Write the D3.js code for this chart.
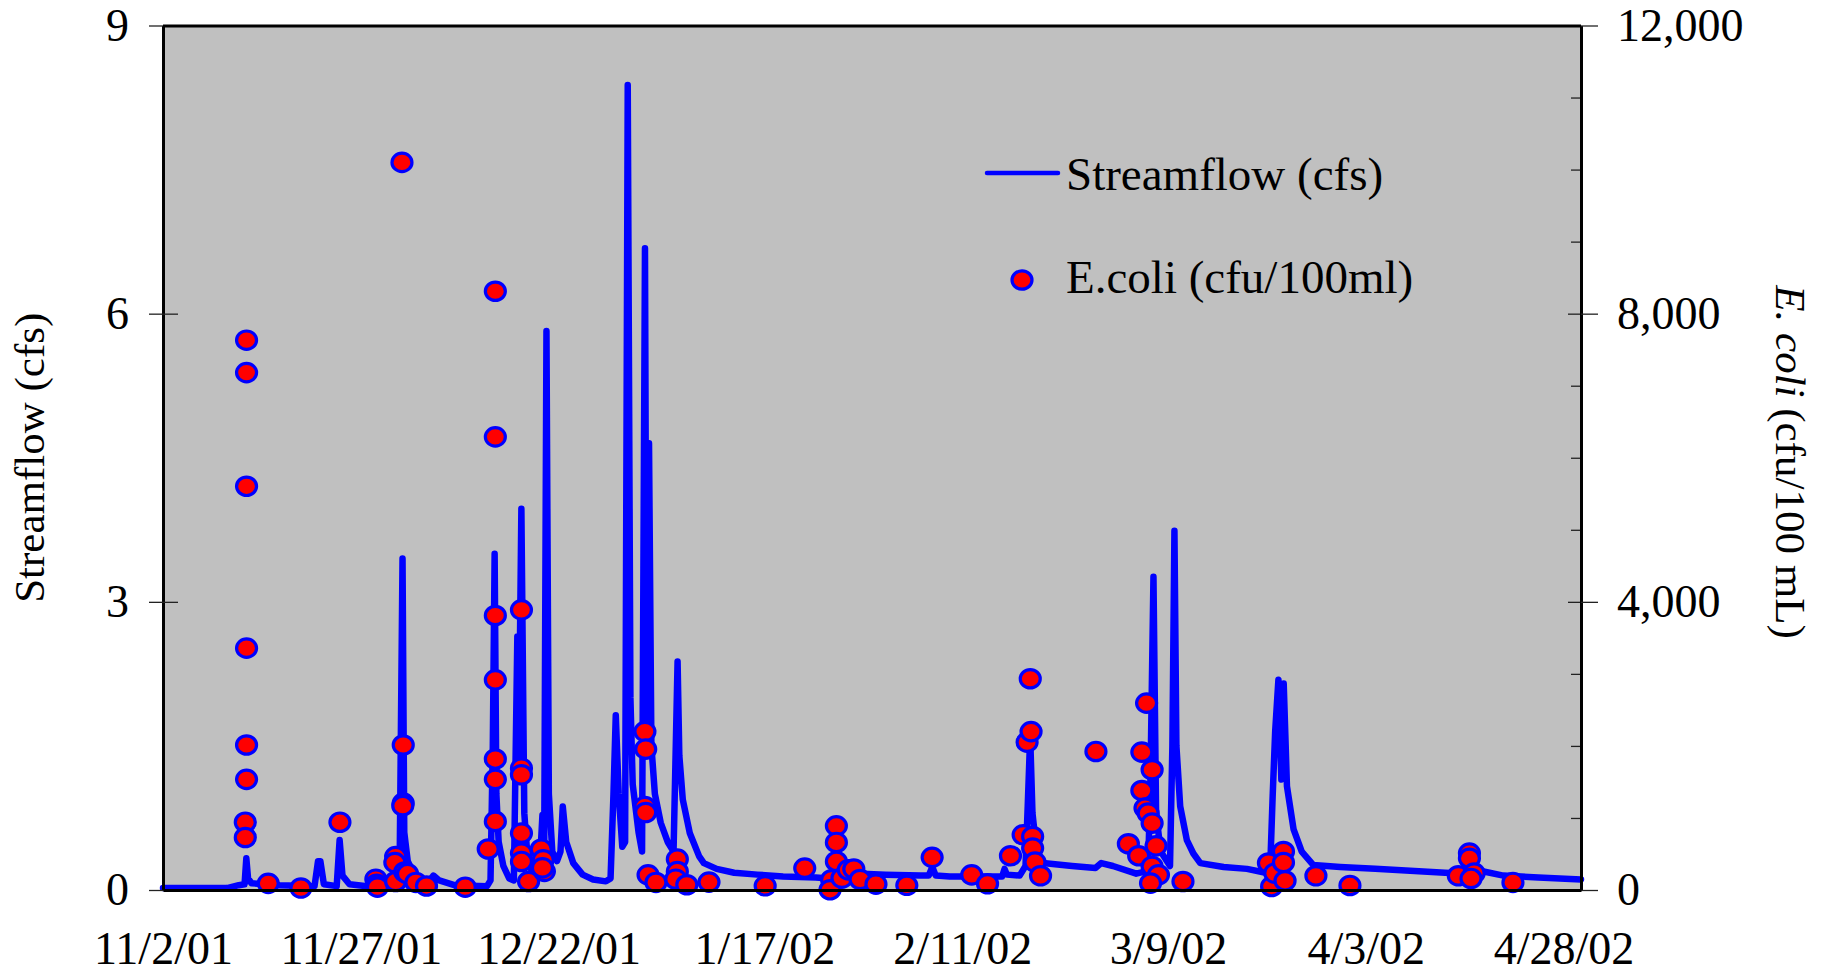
<!DOCTYPE html>
<html>
<head>
<meta charset="utf-8">
<script src="https://cdn.jsdelivr.net/npm/d3@7"></script>
<style>
  body { margin: 0; background: #ffffff; }
</style>
</head>
<body>
<div class="chart"></div>
<script>
// Data
//= ================================
var xTickLabels = ["11/2/01", "11/27/01", "12/22/01", "1/17/02", "2/11/02", "3/9/02", "4/3/02", "4/28/02"];
var flowTicks = [0, 3, 6, 9];
var ecoliTicks = [0, 4000, 8000, 12000];
var ecoliMinorTicks = [1000, 2000, 3000, 5000, 6000, 7000, 9000, 10000, 11000];

// streamflow: days after 11/2/01, cfs
var flowDay = [0, 8.10, 9.57, 10.31, 10.53, 10.75, 11.19, 14.73, 19.15, 19.59, 19.89, 20.33, 21.95, 22.32, 22.68, 23.57,
  25.78, 26.22, 27.25, 28.72, 29.90, 30.27, 30.49, 30.93, 31.82, 32.70, 33.44, 34.18, 34.91, 36.82,
  40.95, 41.39, 41.68, 41.91, 42.13, 42.42, 43.01, 43.75, 44.34, 44.78, 44.93, 45.29, 45.66, 46.10, 46.84,
  47.58, 47.95, 48.17, 48.46, 48.76, 49.20, 49.79, 50.23, 50.52, 50.96, 51.85, 53.03, 54.35, 55.97,
  56.56, 56.93, 57.22, 57.59, 58.04, 58.40, 58.73, 59.07, 59.36, 60.10, 60.54, 60.91, 61.13, 61.42, 61.72,
  62.16, 62.90, 63.78, 64.52, 65.03, 65.25, 65.69, 66.58, 67.76, 68.35, 69.97, 72.18, 75.12, 78.36,
  82.49, 84.25, 88.38, 91.32, 95.74, 96.77, 97.22, 97.66, 99.43, 106.05, 106.35, 106.64, 108.26,
  109.00, 109.29, 109.59, 109.88, 110.47, 111.21, 114.89, 117.84, 118.57, 120.05, 122.99, 124.47,
  124.76, 125.17, 125.50, 126.09, 127.26, 127.56, 127.82, 128.07, 128.55, 129.39, 130.21, 131.09,
  134.04, 136.99, 139.34, 139.93, 140.23, 140.55, 140.96, 141.33, 141.63, 142.04, 142.88, 143.91,
  145.38, 148.77, 153.19, 157.61, 162.03, 164.97, 166.45, 169.39, 173.81, 179.2];
var flowCfs = [0.02, 0.02, 0.05, 0.06, 0.33, 0.12, 0.07, 0.05, 0.04, 0.30, 0.30, 0.06, 0.04, 0.52, 0.15, 0.06,
  0.04, 0.12, 0.08, 0.07, 0.20, 3.45, 0.60, 0.30, 0.15, 0.08, 0.07, 0.15, 0.10, 0.05,
  0.04, 0.10, 1.50, 3.50, 1.00, 0.50, 0.25, 0.12, 0.10, 2.64, 1.20, 3.97, 0.80, 0.30, 0.15,
  0.20, 0.78, 0.30, 5.82, 1.00, 0.40, 0.30, 0.40, 0.87, 0.50, 0.28, 0.16, 0.11, 0.09,
  0.12, 1.00, 1.82, 1.00, 0.45, 0.50, 8.38, 2.00, 1.10, 0.60, 0.40, 6.68, 1.50, 4.65, 1.50,
  1.00, 0.70, 0.50, 0.40, 2.38, 1.40, 0.94, 0.59, 0.35, 0.28, 0.22, 0.18, 0.16, 0.14,
  0.13, 0.12, 0.17, 0.16, 0.15, 0.15, 0.24, 0.15, 0.14, 0.14, 0.22, 0.16, 0.15,
  0.25, 0.90, 1.60, 0.80, 0.35, 0.28, 0.25, 0.23, 0.28, 0.25, 0.17, 0.20,
  1.00, 3.26, 0.80, 0.40, 0.25, 1.50, 3.74, 1.50, 0.87, 0.52, 0.38, 0.28,
  0.24, 0.22, 0.18, 0.25, 0.97, 1.65, 2.19, 1.15, 2.15, 1.08, 0.63, 0.40,
  0.26, 0.24, 0.22, 0.20, 0.18, 0.17, 0.20, 0.15, 0.13, 0.11];

// E. coli samples: days after 11/2/01, cfu/100 ml
var ecoliDay = [10.56, 10.56, 10.56, 10.56, 10.56, 10.56, 10.40, 10.40, 13.30, 17.43, 22.36,
  26.9, 27.0, 27.1, 30.2, 29.4, 29.3, 29.4, 30.36, 30.36, 30.3, 30.55, 30.9, 31.96, 33.3, 38.2,
  42.0, 42.0, 42.0, 42.0, 42.0, 42.0, 42.0, 41.1, 45.3, 45.3, 45.3, 45.3, 45.3, 45.3, 46.2,
  47.8, 48.05, 48.2, 47.95, 60.9, 60.9, 61.0, 61.0, 61.3, 62.3, 65.0, 65.0, 64.8, 66.2, 69.0, 76.1, 81.1,
  85.1, 85.1, 85.1, 84.5, 84.3, 85.8, 86.6, 87.3, 88.1, 90.1, 94.0, 97.2, 102.2, 104.2, 107.1,
  108.7, 109.2, 109.6, 109.7, 109.9, 109.9, 110.2, 110.9, 117.9,
  122.0, 123.3, 123.7, 123.7, 124.1, 124.3, 124.5, 125.0, 125.0, 125.0, 125.5, 125.8, 124.8, 128.9,
  139.7, 140.1, 140.5, 141.6, 141.6, 141.8, 145.7, 150.0, 163.7, 165.1, 165.1, 165.7, 165.3, 170.6];
var ecoliCfu = [7632, 7182, 5604, 3357, 2013, 1536, 941, 729, 92, 27, 941,
  150, 80, 40, 10100, 464, 380, 118, 2013, 1206, 1170, 250, 226, 105, 55, 39,
  8311, 6290, 3810, 2917, 1818, 1536, 952, 569, 3889, 1691, 1599, 789, 512, 396, 118,
  566, 420, 259, 307, 2199, 1159, 1955, 1075, 210, 105, 428, 257, 150, 73, 110, 58, 304,
  891, 660, 396, 142, 3, 165, 280, 291, 146, 81, 65, 453, 210, 86, 475,
  766, 2052, 2932, 2199, 742, 582, 387, 197, 1923,
  642, 475, 1914, 1381, 1137, 2594, 1067, 928, 1669, 327, 613, 210, 95, 118,
  374, 48, 234, 534, 382, 128, 197, 63, 197, 512, 441, 234, 160, 105];

// Step 1: Set up chart
//= ================================
var svgWidth = 1827;
var svgHeight = 973;

var margin = {
  top: 25.5,
  right: 246,
  bottom: 83,
  left: 163
};

var width = svgWidth - margin.left - margin.right;
var height = svgHeight - margin.top - margin.bottom;

var serif = "'Liberation Serif', 'Times New Roman', serif";
var dayMs = 864e5;
var startTime = Date.UTC(2001, 10, 2);
var parseTick = d3.utcParse("%m/%d/%y");

var flowData = flowDay.map((d, i) => ({ date: new Date(startTime + d * dayMs), cfs: flowCfs[i] }));
var ecoliData = ecoliDay.map((d, i) => ({ date: new Date(startTime + d * dayMs), cfu: ecoliCfu[i] }));

// Step 2: SVG wrapper
//= ================================
var svg = d3.select(".chart")
  .append("svg")
  .attr("width", svgWidth)
  .attr("height", svgHeight)
  .style("display", "block");

var chartGroup = svg.append("g")
  .attr("transform", `translate(${margin.left}, ${margin.top})`);

// Step 3: scales
//= ================================
var xTimeScale = d3.scaleUtc()
  .domain([new Date(startTime), new Date(startTime + 179.2 * dayMs)])
  .range([0, width]);

var yFlowScale = d3.scaleLinear().domain([0, 9]).range([height, 0]);
var yEcoliScale = d3.scaleLinear().domain([0, 12000]).range([height, 0]);

// plot background
chartGroup.append("rect")
  .attr("width", width)
  .attr("height", height)
  .attr("fill", "#c0c0c0");

// Step 4: streamflow line
//= ================================
var flowLine = d3.line()
  .x(d => xTimeScale(d.date))
  .y(d => yFlowScale(d.cfs));

chartGroup.append("path")
  .datum(flowData)
  .attr("d", flowLine)
  .attr("fill", "none")
  .attr("stroke", "#0000ff")
  .attr("stroke-width", 6.5)
  .attr("stroke-linejoin", "round")
  .attr("stroke-linecap", "round");

// Step 5: E. coli markers
//= ================================
chartGroup.selectAll(".ecoli")
  .data(ecoliData)
  .enter()
  .append("ellipse")
  .attr("class", "ecoli")
  .attr("cx", d => xTimeScale(d.date))
  .attr("cy", d => yEcoliScale(d.cfu))
  .attr("rx", 10)
  .attr("ry", 9.2)
  .attr("fill", "#ff0000")
  .attr("stroke", "#0000ff")
  .attr("stroke-width", 3.2);

// Step 6: axes
//= ================================
function styleAxis(g) {
  g.attr("font-family", serif).attr("font-size", 46);
  g.selectAll(".domain").attr("stroke", "#000").attr("stroke-width", 3);
  g.selectAll(".tick line").attr("stroke", "#222").attr("stroke-width", 1.3);
  g.selectAll(".tick text").attr("fill", "#000");
}

// left axis (streamflow) with ticks crossing the axis
chartGroup.append("g")
  .call(d3.axisLeft(yFlowScale).tickValues(flowTicks).tickSize(14).tickSizeOuter(0).tickPadding(20))
  .call(styleAxis);

chartGroup.append("g")
  .call(d3.axisRight(yFlowScale).tickValues(flowTicks).tickSize(15).tickFormat(""))
  .call(styleAxis)
  .call(g => g.select(".domain").remove());

// right axis (E. coli)
var rightAxis = chartGroup.append("g")
  .attr("transform", `translate(${width}, 0)`);

rightAxis.append("g")
  .call(d3.axisLeft(yEcoliScale).tickValues(ecoliMinorTicks).tickSize(10).tickFormat(""))
  .call(styleAxis)
  .call(g => g.select(".domain").remove());

rightAxis.append("g")
  .call(d3.axisLeft(yEcoliScale).tickValues(ecoliTicks).tickSize(13).tickFormat(""))
  .call(styleAxis)
  .call(g => g.select(".domain").remove());

rightAxis.append("g")
  .call(d3.axisRight(yEcoliScale).tickValues(ecoliTicks).tickSize(17).tickSizeOuter(0)
    .tickPadding(19).tickFormat(d3.format(",")))
  .call(styleAxis);

// bottom axis: labels only
chartGroup.append("g")
  .attr("transform", `translate(0, ${height})`)
  .call(d3.axisBottom(xTimeScale)
    .tickValues(xTickLabels.map(parseTick))
    .tickSize(0)
    .tickSizeOuter(0)
    .tickPadding(41)
    .tickFormat(d3.utcFormat("%-m/%-d/%y")))
  .call(styleAxis);

// top border
chartGroup.append("line")
  .attr("x1", 0)
  .attr("x2", width)
  .attr("y1", 0.5)
  .attr("y2", 0.5)
  .attr("stroke", "#000")
  .attr("stroke-width", 3);

// Step 7: axes titles
//= ================================
svg.append("text")
  .attr("transform", `translate(44, ${margin.top + height / 2}) rotate(-90)`)
  .attr("text-anchor", "middle")
  .attr("font-family", serif)
  .attr("font-size", 43)
  .text("Streamflow (cfs)");

var rightTitle = svg.append("text")
  .attr("transform", `translate(1776, 462) rotate(90)`)
  .attr("text-anchor", "middle")
  .attr("font-family", serif)
  .attr("font-size", 43);
rightTitle.append("tspan").attr("font-style", "italic").text("E. coli");
rightTitle.append("tspan").text(" (cfu/100 mL)");

// Step 8: legend
//= ================================
var legend = svg.append("g");

legend.append("line")
  .attr("x1", 987)
  .attr("x2", 1058)
  .attr("y1", 173)
  .attr("y2", 173)
  .attr("stroke", "#0000ff")
  .attr("stroke-width", 4.5)
  .attr("stroke-linecap", "round");

legend.append("text")
  .attr("x", 1066)
  .attr("y", 190)
  .attr("font-family", serif)
  .attr("font-size", 47)
  .text("Streamflow (cfs)");

legend.append("ellipse")
  .attr("cx", 1022)
  .attr("cy", 280)
  .attr("rx", 10)
  .attr("ry", 9.2)
  .attr("fill", "#ff0000")
  .attr("stroke", "#0000ff")
  .attr("stroke-width", 3.2);

legend.append("text")
  .attr("x", 1066)
  .attr("y", 293)
  .attr("font-family", serif)
  .attr("font-size", 47)
  .text("E.coli (cfu/100ml)");
</script>
</body>
</html>
